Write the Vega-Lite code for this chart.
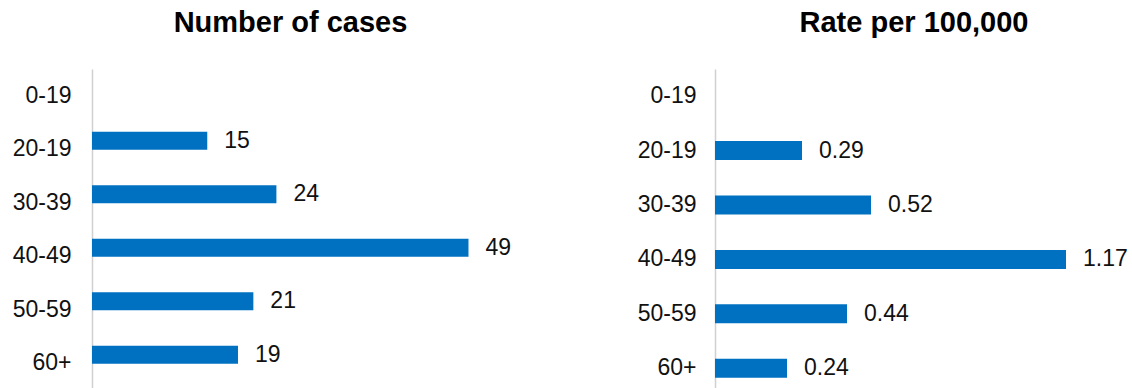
{
  "$schema": "https://vega.github.io/schema/vega-lite/v6.json",
  "padding": {"left": 12, "top": 9, "right": 0, "bottom": 0},
  "background": "white",
  "config": {
    "view": {"stroke": null},
    "font": "Liberation Sans",
    "title": {"fontSize": 29, "fontWeight": "bold", "color": "#000000", "font": "Liberation Sans", "anchor": "middle"},
    "axisY": {"title": null, "domain": true, "domainColor": "#d0d0d0", "domainWidth": 1.5, "ticks": false, "grid": false, "labelFontSize": 23, "labelColor": "#111111", "labelFont": "Liberation Sans"}
  },
  "data": {
    "values": [
      {"age": "0-19", "cases": null, "rate": null},
      {"age": "20-19", "cases": 15, "rate": 0.29},
      {"age": "30-39", "cases": 24, "rate": 0.52},
      {"age": "40-49", "cases": 49, "rate": 1.17},
      {"age": "50-59", "cases": 21, "rate": 0.44},
      {"age": "60+", "cases": 19, "rate": 0.24}
    ]
  },
  "spacing": 84,
  "hconcat": [
    {
      "title": {"text": "Number of cases", "dx": -32, "offset": 31},
      "width": 461,
      "height": 321,
      "encoding": {
        "y": {"field": "age", "type": "nominal", "sort": null,
          "scale": {"domain": ["0-19", "20-19", "30-39", "40-49", "50-59", "60+"], "paddingInner": 0, "paddingOuter": 0},
          "axis": {"labelPadding": 21}}
      },
      "layer": [
        {"mark": {"type": "bar", "color": "#0070C0", "size": 18, "yOffset": -8.5},
         "encoding": {"x": {"field": "cases", "type": "quantitative", "scale": {"domain": [0, 60], "nice": false}, "axis": null}}},
        {"mark": {"type": "text", "align": "left", "baseline": "middle", "dx": 17, "dy": -8.5, "fontSize": 23, "color": "#111111"},
         "encoding": {"x": {"field": "cases", "type": "quantitative"}, "text": {"field": "cases", "type": "quantitative", "format": "d"}}}
      ]
    },
    {
      "title": {"text": "Rate per 100,000", "dx": 19, "offset": 31},
      "width": 360,
      "height": 326.4,
      "encoding": {
        "y": {"field": "age", "type": "nominal", "sort": null,
          "scale": {"domain": ["0-19", "20-19", "30-39", "40-49", "50-59", "60+"], "paddingInner": 0, "paddingOuter": 0},
          "axis": {"labelPadding": 19}}
      },
      "layer": [
        {"mark": {"type": "bar", "color": "#0070C0", "size": 19},
         "encoding": {"x": {"field": "rate", "type": "quantitative", "scale": {"domain": [0, 1.2], "nice": false}, "axis": null}}},
        {"mark": {"type": "text", "align": "left", "baseline": "middle", "dx": 17, "fontSize": 23, "color": "#111111"},
         "encoding": {"x": {"field": "rate", "type": "quantitative"}, "text": {"field": "rate", "type": "quantitative", "format": ".2f"}}}
      ]
    }
  ]
}
